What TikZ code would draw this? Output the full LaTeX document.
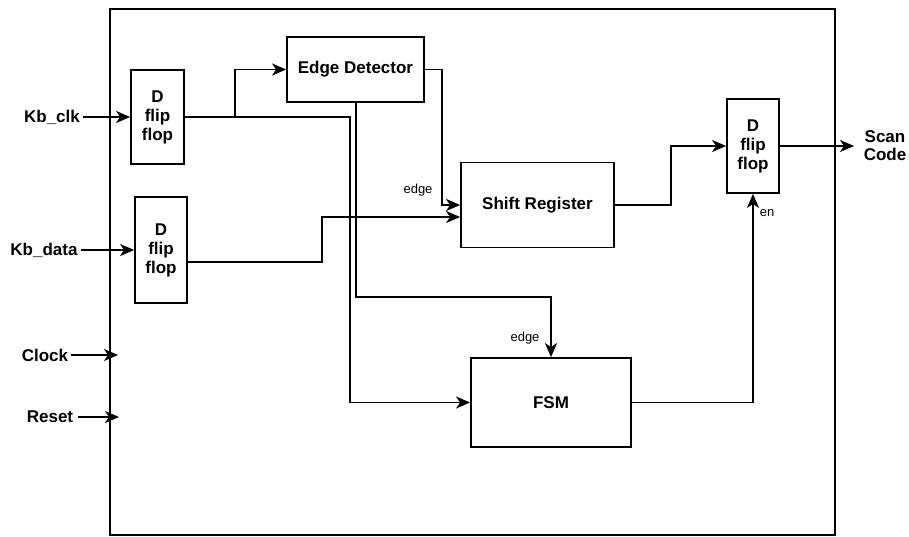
\documentclass[tikz,border=0pt]{standalone}
\usepackage{fontspec}
\setmainfont{Liberation Sans}
\usetikzlibrary{arrows.meta}
\tikzset{
  blk/.style={draw, line width=1.8pt, inner sep=0pt, align=center,
    font=\fontsize{17}{19}\selectfont\bfseries},
  lbl/.style={inner sep=0pt, align=center, font=\fontsize{17}{18}\selectfont\bfseries},
  sml/.style={inner sep=0pt, font=\fontsize{13}{13}\selectfont},
  wire/.style={line width=1.7pt},
  arr/.style={wire, -{Stealth[length=14pt,width=12pt,inset=4pt]}}
}
\begin{document}
\begin{tikzpicture}[x=1pt,y=-1pt]
\useasboundingbox (0,0) rectangle (909,536);
\draw[line width=1.9pt] (110,9) rectangle (835,535);
% blocks
\node[blk, minimum width=53, minimum height=94] (ff1) at (157.5,117) {D\\flip\\flop};
\node[blk, minimum width=52, minimum height=106] (ff2) at (161,250) {D\\flip\\flop};
\node[blk, minimum width=137, minimum height=65] (ed) at (355.5,69.5) {Edge Detector};
\node[blk, minimum width=153, minimum height=85] (sr) at (537.5,205) {Shift Register};
\node[blk, minimum width=160, minimum height=89] (fsm) at (551,402.5) {FSM};
\node[blk, minimum width=52, minimum height=94] (ff3) at (753,146) {D\\flip\\flop};
% external labels
\node[lbl] (kbclk) at (52,117) {Kb\_clk};
\node[lbl] (kbdata) at (44,250) {Kb\_data};
\node[lbl] (clk) at (45,355) {Clock};
\node[lbl] (rst) at (50,417) {Reset};
\node[lbl] (scan) at (885,146) {Scan\\Code};
\node[sml] (e1) at (418,190) {edge};
\node[sml] (e2) at (525,338) {edge};
\node[sml] (en) at (767,213) {en};
% helper coordinates
\coordinate (clkin) at (118,355);
\coordinate (rstin) at (119,417);
\coordinate (scanout) at (854,146);
\coordinate (j1) at (235,117);
\coordinate (b1) at (350,117);
\coordinate (b2) at (356,297);
\coordinate (b3) at (442,205);
\coordinate (b4) at (322,217);
\coordinate (b5) at (671,146);
\coordinate (b6) at (753,402.5);
% connectors
\draw[arr] (kbclk.east) ++(3,0) -- (ff1.west);
\draw[arr] (kbdata.east) ++(3,0) -- (ff2.west);
\draw[arr] (clk.east) ++(3,0) -- (clkin);
\draw[arr] (rst.east) ++(5,0) -- (rstin);
\draw[arr] (ff1.east) -- (b1) |- (fsm.west);
\draw[arr] (j1) |- (ed.west);
\draw[arr] (ed.south -| b2) -- (b2) -| (fsm.north);
\draw[arr] (ed.east) -| (b3) -- (sr.west |- b3);
\draw[arr] (ff2.east |- 0,262) -| (b4) -- (sr.west |- b4);
\draw[arr] (sr.east) -| (b5) -- (ff3.west);
\draw[arr] (ff3.east) -- (scanout);
\draw[arr] (fsm.east) -- (b6) -- (ff3.south);
\end{tikzpicture}
\end{document}
